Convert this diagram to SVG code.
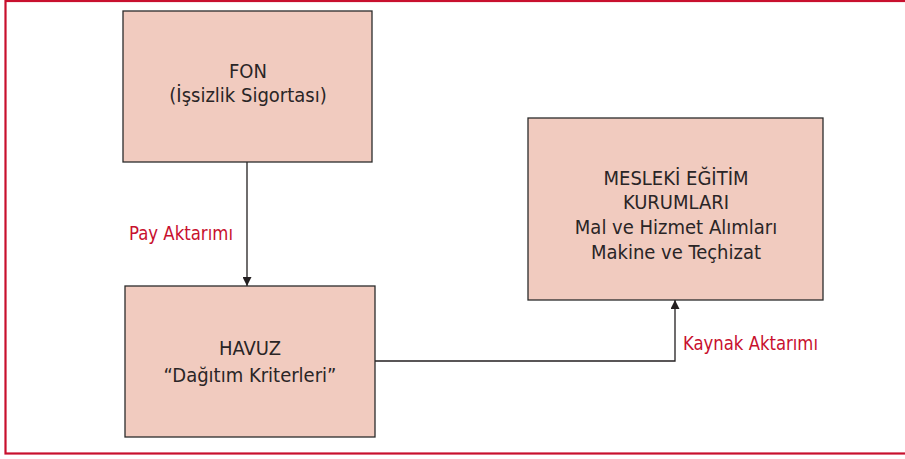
<svg xmlns="http://www.w3.org/2000/svg" width="905" height="459" viewBox="0 0 905 459">
  <defs>
    <marker id="arrow" viewBox="0 0 10 10" refX="10" refY="5" markerWidth="10" markerHeight="9" markerUnits="userSpaceOnUse" orient="auto">
      <path d="M0,0 L10,5 L0,10 z" fill="#231f20"/>
    </marker>
    <style>
      .box { fill: #f1cbbf; stroke: #2b2b2b; stroke-width: 1.3; }
      .label { font-family: "DejaVu Sans Condensed", "DejaVu Sans", sans-serif; font-stretch: condensed; font-size: 20px; fill: #2a2526; text-anchor: middle; }
      .flow { font-family: "DejaVu Sans Condensed", "DejaVu Sans", sans-serif; font-stretch: condensed; font-size: 20px; fill: #c8102e; }
      .edge { fill: none; stroke: #231f20; stroke-width: 1.3; }
    </style>
  </defs>

  <!-- outer frame -->
  <rect x="5.5" y="1" width="920" height="452.5" fill="#ffffff" stroke="#c8102e" stroke-width="2.2"/>

  <g id="connectors">
    <line class="edge" x1="247" y1="162" x2="247" y2="286" marker-end="url(#arrow)"/>
    <polyline class="edge" points="375,361 675,361 675,300" marker-end="url(#arrow)"/>
    <text class="flow" x="129" y="240" textLength="104" lengthAdjust="spacingAndGlyphs">Pay Aktarımı</text>
    <text class="flow" x="683" y="350" textLength="135" lengthAdjust="spacingAndGlyphs">Kaynak Aktarımı</text>
  </g>

  <g id="fon">
    <rect class="box" x="123" y="11" width="249" height="151"/>
    <text class="label" x="248" y="78">FON</text>
    <text class="label" x="248" y="102">(İşsizlik Sigortası)</text>
  </g>

  <g id="havuz">
    <rect class="box" x="125" y="286" width="250" height="151"/>
    <text class="label" x="250" y="355">HAVUZ</text>
    <text class="label" x="250" y="382">“Dağıtım Kriterleri”</text>
  </g>

  <g id="mesleki-egitim">
    <rect class="box" x="528" y="118" width="295" height="182"/>
    <text class="label" x="676" y="185">MESLEKİ EĞİTİM</text>
    <text class="label" x="676" y="209">KURUMLARI</text>
    <text class="label" x="676" y="234">Mal ve Hizmet Alımları</text>
    <text class="label" x="676" y="259">Makine ve Teçhizat</text>
  </g>
</svg>
